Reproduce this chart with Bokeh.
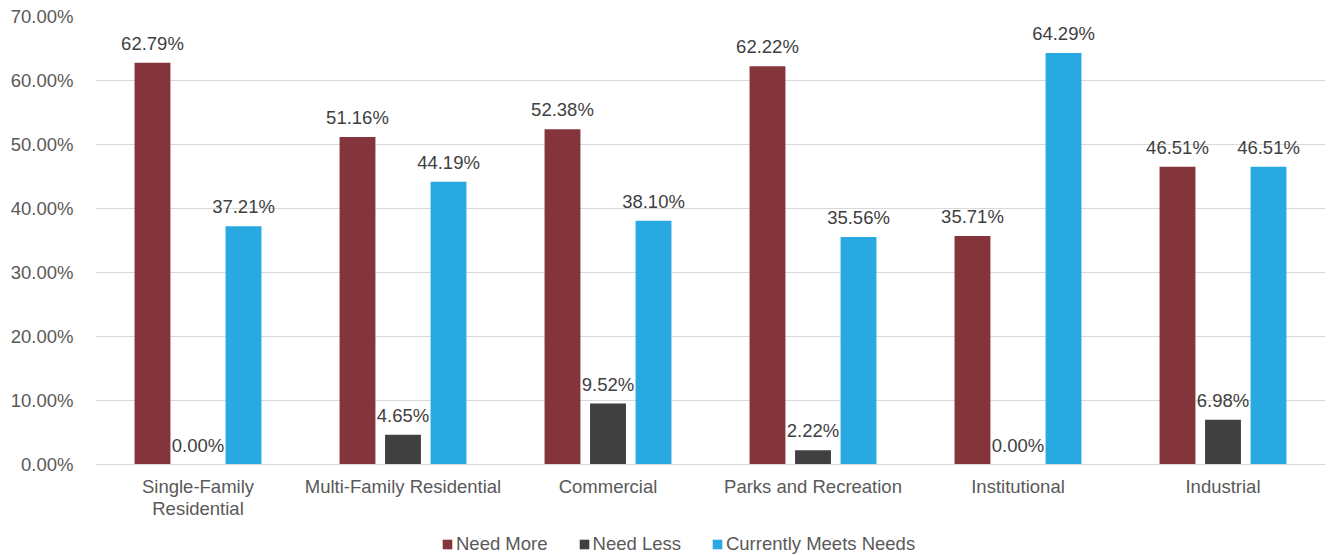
from bokeh.plotting import figure
from bokeh.layouts import column
from bokeh.models import (ColumnDataSource, FactorRange, FixedTicker, PrintfTickFormatter,
                          LabelSet, Legend, LegendItem)
from bokeh.core.properties import value
from bokeh.transform import dodge
from bokeh.embed import file_html
from bokeh.resources import INLINE

categories = ["Single-Family\nResidential", "Multi-Family Residential", "Commercial",
              "Parks and Recreation", "Institutional", "Industrial"]
series_names = ["Need More", "Need Less", "Currently Meets Needs"]
need_more = [62.79, 51.16, 52.38, 62.22, 35.71, 46.51]
need_less = [0.00, 4.65, 9.52, 2.22, 0.00, 6.98]
meets_needs = [37.21, 44.19, 38.10, 35.56, 64.29, 46.51]
y_ticks = [0, 10, 20, 30, 40, 50, 60, 70]

colors = ["#84353B", "#404040", "#29A9E1"]
FONT = "Liberation Sans"
FS = "18.5px"

source = ColumnDataSource(data=dict(
    cat=categories,
    more=need_more, less=need_less, meets=meets_needs,
    more_lbl=[f"{v:.2f}%" for v in need_more],
    less_lbl=[f"{v:.2f}%" for v in need_less],
    meets_lbl=[f"{v:.2f}%" for v in meets_needs],
))

# main bar chart
p = figure(x_range=FactorRange(*categories), y_range=(0, 70),
           width=1329, height=528, output_backend="svg", toolbar_location=None,
           min_border_left=95, min_border_right=4, min_border_top=16, min_border_bottom=64)
p.x_range.range_padding = 0.0
p.outline_line_color = None
p.background_fill_color = "white"
p.border_fill_color = "white"

offsets = [-0.222, 0.0, 0.222]
fields = ["more", "less", "meets"]
for f, off, c in zip(fields, offsets, colors):
    p.vbar(x=dodge("cat", off, range=p.x_range), top=f, width=0.175,
           source=source, fill_color=c, line_color=None)
    labels = LabelSet(x=dodge("cat", off, range=p.x_range), y=f, text=f + "_lbl",
                      source=source, text_align="center", text_baseline="bottom",
                      y_offset=9, text_font=value(FONT), text_font_size=value(FS),
                      text_color="#404040")
    p.add_layout(labels)

p.yaxis.ticker = FixedTicker(ticks=y_ticks)
p.yaxis.formatter = PrintfTickFormatter(format="%.2f%%")
p.yaxis.axis_line_color = None
p.yaxis.major_tick_line_color = None
p.yaxis.minor_tick_line_color = None
p.yaxis.major_label_standoff = 16
p.yaxis.major_label_text_font = FONT
p.yaxis.major_label_text_font_size = FS
p.yaxis.major_label_text_color = "#595959"

p.xaxis.axis_line_color = "#D9D9D9"
p.xaxis.major_tick_line_color = None
p.xaxis.minor_tick_line_color = None
p.xaxis.major_label_standoff = 5
p.xaxis.major_label_text_font = FONT
p.xaxis.major_label_text_font_size = FS
p.xaxis.major_label_text_color = "#595959"
p.xaxis.major_label_text_line_height = 1.05

p.xgrid.grid_line_color = None
p.ygrid.grid_line_color = "#D9D9D9"
p.ygrid.grid_line_width = 1

# legend strip underneath the chart (frames of a column are aligned, so x is
# measured from the chart's left plotting edge)
lg = figure(width=1329, height=27, x_range=(0, 1), y_range=(0, 1),
            output_backend="svg", toolbar_location=None,
            x_axis_location=None, y_axis_location=None,
            min_border_left=95, min_border_right=4, min_border_top=0, min_border_bottom=0)
lg.grid.visible = False
lg.outline_line_color = None
# zero-height swatch bars: only their legend icons are seen
swatch_src = ColumnDataSource(data=dict(x=[0.5], top=[0.0]))
swatches = [lg.vbar(x="x", top="top", width=0.01, source=swatch_src,
                    fill_color=c, line_color=None) for c in colors]
legend = Legend(items=[LegendItem(label=n, renderers=[r]) for n, r in zip(series_names, swatches)],
                orientation="horizontal", location=(346, 0),
                label_text_font=FONT, label_text_font_size=FS, label_text_color="#595959",
                glyph_width=12, glyph_height=12, label_standoff=3, spacing=30,
                border_line_color=None, background_fill_alpha=0, padding=0, margin=0,
                label_height=14)
lg.add_layout(legend, "center")

open("out.html", "w").write(file_html(column(p, lg, spacing=0), INLINE))
